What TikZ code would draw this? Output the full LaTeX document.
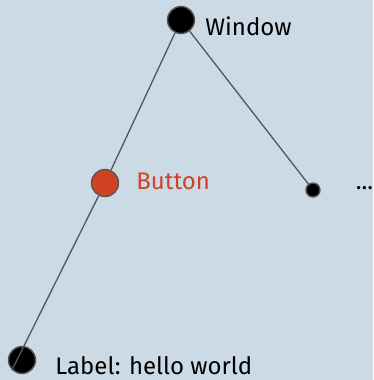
\documentclass[tikz,border=0pt]{standalone}
\usepackage{fontspec}
\setmainfont{Fira Sans}
\usetikzlibrary{positioning}
\definecolor{bgblue}{HTML}{CCDAE6}
\definecolor{btnred}{HTML}{D04322}
\definecolor{edgegray}{HTML}{555555}

\begin{document}
\begin{tikzpicture}
  [
    x=1pt, y=-1pt,
    every node/.style={font=\fontsize{24}{26}\selectfont},
    every label/.style={inner sep=0pt},
    leaf/.style   = {draw=edgegray, circle, fill=black, line width=1.4pt, minimum size=27pt, inner sep=0pt},
    widget/.style = {draw=edgegray, circle, fill=btnred, line width=1.4pt, minimum size=27pt, inner sep=0pt},
    stub/.style   = {draw=edgegray, circle, fill=black, line width=1.4pt, minimum size=14pt, inner sep=0pt},
    link/.style   = {draw=edgegray, line width=1.3pt},
  ]

  % background
  \fill[bgblue] (0,0) rectangle (373,380);
  \useasboundingbox (0,0) rectangle (373,380);

  \node (window) at (181,20) [leaf, label={[label distance=10pt, yshift=-6pt]right:Window}] {};
  \node (button) at (105,183) [widget, label={[label distance=17pt, yshift=2pt, text=btnred]right:Button}] {};
  \node (more)   at (313,190) [stub, label={[label distance=35pt, yshift=2pt]right:...}] {};
  \node (label)  at (22,360) [leaf, label={[label distance=19pt, yshift=-6pt]right:Label: hello world}] {};

  \draw[link] (window) -- (button);
  \draw[link] (window) -- (more);
  \draw[link] (button) -- (label.south west);

\end{tikzpicture}
\end{document}
